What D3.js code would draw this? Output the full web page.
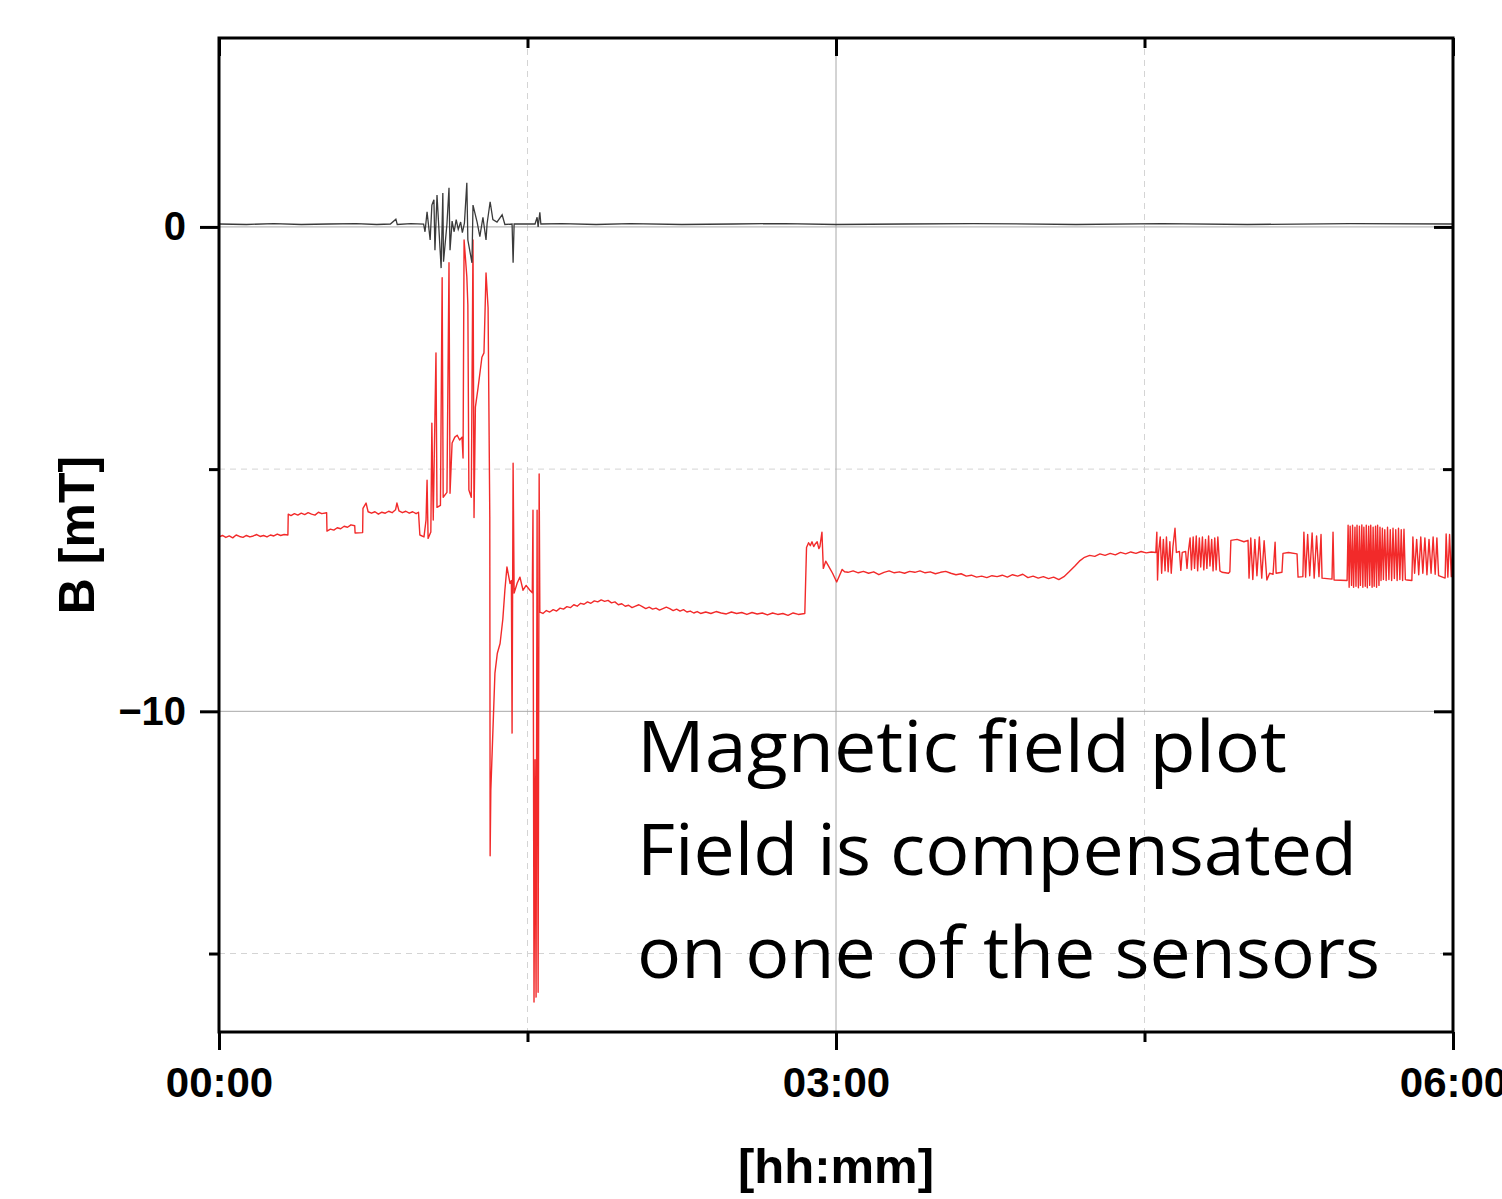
<html>
<head>
<meta charset="utf-8">
<title>Magnetic field plot</title>
<style>
  body { margin: 0; background: #fff; }
  .tick text { font-family: "Liberation Sans", Arial, sans-serif; font-weight: bold; }
</style>
</head>
<body>
<script src="https://d3js.org/d3.v7.min.js"></script>
<script>
// axis ranges / ticks (time in minutes, field in mT)
var xDomain = [0, 360]
var yDomain = [-16.62, 3.9]
var xMajor = [0, 180, 360]
var xMinor = [90, 270]
var yMajor = [0, -10]
var yMinor = [-5, -15]
var noteLines = ["Magnetic field plot", "Field is compensated", "on one of the sensors"]

// black trace (compensated sensor), [min, mT]
var blackSeries = [
  [0,0.06],[8,0.05],[16,0.07],[24,0.05],[32,0.06],[40,0.07],[46,0.05],[50,0.06],[51.6,0.16],
  [52,0.05],[56,0.07],[59.7,0.06],
  [60.1,-0.10],[60.7,0.31],[61.6,-0.27],[62.1,0.45],[62.7,0.56],[63.0,-0.48],[63.6,0.66],
  [64.8,-0.85],[65.3,0.70],[65.5,-0.72],[66.5,0.06],[67.1,0.81],[67.4,-0.48],[68.0,0.12],
  [68.6,-0.10],[69.2,0.15],[69.8,-0.05],[70.5,0.10],[71.0,-0.12],[71.6,0.08],
  [72.3,0.91],[72.6,-0.27],[73.8,-0.74],[74.1,0.45],[75.3,0.10],[76.1,-0.20],[77.0,0.20],
  [77.9,-0.27],[78.2,0.06],[79.1,0.52],[79.9,0.15],[81.1,0.10],[82.6,0.25],[83.4,0.05],
  [85.5,0.06],[85.8,-0.74],[86.1,0.06],[92.2,0.06],[92.8,0.20],[93.1,0.00],[93.6,0.30],
  [93.9,0.06],[100,0.07],[110,0.05],[120,0.07],[135,0.05],[150,0.06],[165,0.07],[180,0.05],
  [200,0.06],[220,0.07],[250,0.05],[275,0.07],[300,0.05],[330,0.07],[360,0.06]
]

// red trace (uncompensated sensor), [min, mT]
var redSeries = [
  [0,-6.40],[1,-6.37],[2,-6.41],[3,-6.38],[4,-6.42],[5,-6.36],[6,-6.39],[7,-6.41],[8,-6.37],
  [9,-6.40],[10,-6.38],[11,-6.35],[12,-6.39],[13,-6.37],[14,-6.40],[15,-6.36],[16,-6.38],
  [17,-6.34],[18,-6.37],[19,-6.35],[20.1,-6.36],
  [20.2,-5.93],[21,-5.96],[22,-5.92],[23,-5.95],[24,-5.91],[25,-5.94],[26,-5.90],[27,-5.93],
  [28,-5.95],[29,-5.89],[30,-5.92],[31.4,-5.90],
  [31.5,-6.28],[32.5,-6.24],[33.5,-6.26],[34.5,-6.21],[35.5,-6.23],[36.5,-6.18],[37.5,-6.20],
  [38.5,-6.15],[39.6,-6.17],[39.7,-6.32],[41.9,-6.31],
  [42.0,-5.81],[42.9,-5.70],[43.5,-5.88],[44.5,-5.91],[45.5,-5.88],[46.5,-5.93],[47.5,-5.89],
  [48.5,-5.91],[49.5,-5.87],[50.5,-5.90],[51.5,-5.84],[51.9,-5.70],[52.5,-5.86],[53.5,-5.90],
  [54.5,-5.87],[55.5,-5.91],[56.5,-5.88],[57.5,-5.92],[58.2,-5.89],
  [58.6,-6.36],[59.8,-6.40],[60.4,-6.05],[60.7,-5.23],[61.0,-6.43],[61.8,-6.30],[62.1,-4.05],
  [62.5,-6.05],[63.3,-2.60],[63.6,-5.79],[64.6,-5.75],[65.1,-1.05],[65.4,-5.58],[66.5,-5.48],
  [67.1,-0.74],[67.4,-5.50],[68.0,-4.46],[68.8,-4.34],[69.5,-4.30],[70.2,-4.40],[70.9,-4.34],
  [71.2,-4.77],[71.5,-0.27],[72.3,-1.03],[72.6,-1.61],[72.9,-5.43],[73.6,-5.58],[74.1,-0.27],
  [74.4,-6.00],[74.8,-3.72],[75.6,-3.31],[76.7,-2.69],[77.3,-2.60],[77.9,-0.95],[78.5,-1.67],
  [79.0,-5.99],[79.1,-12.98],[79.3,-11.63],[80.5,-9.21],[81.2,-8.80],[82.0,-8.60],[82.8,-8.10],
  [83.4,-7.50],[84.0,-7.02],[84.9,-7.36],[85.3,-7.30],[85.5,-10.45],[85.8,-4.88],[86.1,-7.56],
  [87.0,-7.35],[87.8,-7.23],[88.7,-7.50],[89.6,-7.40],[90.7,-7.50],[91.4,-7.55],[91.6,-5.85],
  [91.9,-16.0],[92.2,-11.0],[92.5,-15.9],[92.8,-5.85],[93.1,-15.8],[93.4,-5.10],[93.6,-7.95],
  [94.5,-7.98],[95.5,-7.92],[96.5,-7.95],[97.5,-7.90],[98.5,-7.93],[99.5,-7.87],[100.5,-7.89],
  [101.5,-7.84],[102.5,-7.86],[103.5,-7.80],[104.5,-7.83],[105.5,-7.77],[106.5,-7.79],
  [107.5,-7.74],[108.5,-7.77],[109.5,-7.72],[110.5,-7.74],[111.5,-7.70],[112.5,-7.73],
  [113.5,-7.71],[114.5,-7.76],[115.5,-7.74],[116.5,-7.80],[117.5,-7.78],[118.5,-7.83],
  [119.5,-7.81],[120.5,-7.86],[121.5,-7.83],[122.5,-7.80],[123.5,-7.84],[124.5,-7.88],
  [125.5,-7.85],[126.5,-7.89],[127.5,-7.87],[128.5,-7.91],[129.5,-7.88],[130.5,-7.85],
  [131.5,-7.88],[132.5,-7.92],[133.5,-7.89],[134.5,-7.93],[135.5,-7.90],[136.5,-7.95],
  [137.5,-7.93],[138.5,-7.97],[139.5,-7.94],[140.5,-7.98],[142,-7.95],[143.5,-7.98],
  [145,-7.94],[146.5,-7.97],[148,-7.99],[149.5,-7.95],[151,-7.98],[152.5,-7.96],[154,-8.00],
  [155.5,-7.96],[157,-7.99],[158.5,-7.97],[160,-8.01],[161.5,-7.97],[163,-8.00],[164.5,-7.98],
  [166,-8.02],[167.5,-7.97],[169,-8.00],[170.9,-7.98],
  [171.4,-6.62],[172.0,-6.52],[172.5,-6.58],[173.0,-6.50],[173.5,-6.60],[174.0,-6.54],
  [174.5,-6.50],[175.0,-6.64],[175.3,-6.60],[175.9,-6.30],[176.3,-7.05],[177.0,-6.90],
  [177.5,-6.96],[178.2,-7.05],[179,-7.15],[180.2,-7.33],[181.0,-7.20],[181.8,-7.07],
  [182.5,-7.12],[183.5,-7.13],[185,-7.10],[186.5,-7.14],[188,-7.11],[189.5,-7.15],[191,-7.12],
  [192.5,-7.18],[194,-7.13],[195.5,-7.10],[197,-7.14],[198.5,-7.12],[200,-7.15],[201.5,-7.11],
  [203,-7.13],[204.5,-7.10],[206,-7.14],[207.5,-7.12],[209,-7.16],[210.5,-7.13],[212,-7.11],
  [213.5,-7.15],[215,-7.18],[216.5,-7.16],[218,-7.21],[219.5,-7.19],[221,-7.23],[222.5,-7.21],
  [224,-7.24],[225.5,-7.20],[227,-7.22],[228.5,-7.19],[230,-7.23],[231.5,-7.18],[233,-7.21],
  [234.5,-7.17],[236,-7.24],[237.5,-7.21],[239,-7.25],[240.5,-7.22],[242,-7.26],[243.5,-7.23],
  [245,-7.28],[246.5,-7.22],[248,-7.12],[249.7,-7.00],[251,-6.90],[252.5,-6.82],[254,-6.78],
  [255.5,-6.80],[257,-6.75],[258.5,-6.78],[260,-6.74],[261.5,-6.77],[263,-6.72],[264.5,-6.75],
  [266,-6.71],[267.5,-6.74],[269,-6.70],[270.5,-6.73],[272,-6.71],[273.3,-6.72],
  [273.6,-6.30],[273.8,-7.29],[274.1,-6.72],[274.6,-6.40],[275.0,-7.15],[275.5,-6.45],
  [276.0,-7.10],[276.4,-6.40],[276.9,-7.12],[277.4,-6.50],[277.8,-7.15],[278.3,-6.60],
  [278.9,-6.22],[279.3,-6.72],[280.2,-6.70],[280.6,-7.09],[281.0,-6.72],[282.0,-6.70],
  [282.4,-7.05],[282.8,-6.70],[283.3,-6.42],
  [283.7,-7.08],[284.2,-6.40],[284.6,-7.05],[285.1,-6.38],[285.5,-7.10],[286.0,-6.42],
  [286.4,-7.02],[286.9,-6.40],[287.3,-7.08],[287.8,-6.45],[288.2,-7.05],[288.7,-6.38],
  [289.1,-7.00],[289.6,-6.45],[290.0,-7.10],[290.5,-6.42],[290.9,-7.08],[291.4,-6.40],
  [292.0,-7.10],[292.6,-7.13],[294.5,-7.15],[294.9,-7.12],[295.2,-6.47],[297,-6.45],
  [299,-6.50],[300.2,-6.47],
  [300.5,-7.25],[301.0,-6.42],[301.6,-7.28],[302.2,-6.45],[302.8,-7.20],[303.5,-6.40],
  [304.2,-7.25],[304.9,-6.48],[305.7,-7.29],[306.5,-7.15],[307.5,-7.17],[308.1,-6.51],
  [308.4,-7.15],[310.1,-7.13],[310.4,-6.74],[312,-6.72],[314.5,-6.75],[314.8,-7.23],
  [316.2,-7.22],[316.5,-6.30],[317.0,-7.23],[317.6,-6.35],[318.2,-7.20],[318.9,-6.32],
  [319.5,-7.25],[320.2,-6.38],[320.9,-7.22],[321.5,-6.35],[321.8,-7.25],[324.7,-7.27],
  [325.0,-6.30],[325.3,-7.29],[329.1,-7.30],
  [329.4,-6.16],[329.7,-7.44],[330.0,-6.18],[330.4,-7.40],[330.7,-6.16],[331.0,-7.44],
  [331.4,-6.20],[331.7,-7.42],[332.0,-6.16],[332.4,-7.45],[332.7,-6.18],[333.0,-7.40],
  [333.4,-6.15],[333.7,-7.44],[334.0,-6.20],[334.4,-7.42],[334.7,-6.16],[335.0,-7.45],
  [335.4,-6.18],[335.7,-7.40],[336.0,-6.16],[336.4,-7.44],[336.7,-6.20],[337.0,-7.42],
  [337.4,-6.18],[337.7,-7.44],[338.0,-6.16],[338.4,-7.40],[338.7,-6.20],
  [339.0,-7.30],[339.4,-6.22],[339.7,-7.28],[340.1,-6.25],[340.5,-7.30],[340.9,-6.20],
  [341.3,-7.28],[341.7,-6.25],[342.1,-7.30],[342.5,-6.22],[342.9,-7.26],[343.3,-6.25],
  [343.7,-7.30],[344.1,-6.22],[344.5,-7.28],[344.9,-6.25],[345.3,-7.30],[345.7,-6.24],
  [346.1,-7.28],[346.6,-7.29],[348.0,-7.30],
  [348.3,-6.40],[348.8,-7.15],[349.4,-6.45],[350.0,-7.18],[350.6,-6.40],[351.2,-7.15],
  [351.8,-6.42],[352.4,-7.18],[353.0,-6.45],[353.6,-7.15],[354.2,-6.40],[354.8,-7.17],
  [355.3,-6.42],[355.8,-7.20],[357.7,-7.25],[358.0,-6.34],[358.5,-7.23],[359.0,-6.35],
  [359.5,-7.22],[360,-6.40]
]

var W = 1502, H = 1199
var margin = { left: 219, top: 38, right: 49, bottom: 167 }
var w = W - margin.left - margin.right
var h = H - margin.top - margin.bottom

var svg = d3.select("body").append("svg")
  .attr("width", W)
  .attr("height", H)

var g = svg.append("g").attr("transform", `translate(${margin.left},${margin.top})`)

var x = d3.scaleLinear().domain(xDomain).range([0, w])
var y = d3.scaleLinear().domain(yDomain).range([h, 0])

function hhmm(m) {
  return d3.format("02d")(Math.floor(m / 60)) + ":" + d3.format("02d")(m % 60)
}

// grid: minor dashed, major solid
g.selectAll(".gx-minor").data(xMinor).enter().append("line")
  .attr("x1", d => x(d)).attr("x2", d => x(d)).attr("y1", 0).attr("y2", h)
  .attr("stroke", "#d4d4d4").attr("stroke-width", 1).attr("stroke-dasharray", "6,5")
g.selectAll(".gy-minor").data(yMinor).enter().append("line")
  .attr("x1", 0).attr("x2", w).attr("y1", d => y(d)).attr("y2", d => y(d))
  .attr("stroke", "#d4d4d4").attr("stroke-width", 1).attr("stroke-dasharray", "6,5")
g.selectAll(".gx-major").data([180]).enter().append("line")
  .attr("x1", d => x(d)).attr("x2", d => x(d)).attr("y1", 0).attr("y2", h)
  .attr("stroke", "#a8a8a8").attr("stroke-width", 1)
g.selectAll(".gy-major").data(yMajor).enter().append("line")
  .attr("x1", 0).attr("x2", w).attr("y1", d => y(d)).attr("y2", d => y(d))
  .attr("stroke", "#a8a8a8").attr("stroke-width", 1)

var line = d3.line().x(d => x(d[0])).y(d => y(d[1]))

g.append("path").datum(redSeries)
  .attr("d", line)
  .attr("fill", "none")
  .attr("stroke", "#f22a2a")
  .attr("stroke-width", 1.4)
  .attr("stroke-linejoin", "round")

g.append("path").datum(blackSeries)
  .attr("d", line)
  .attr("fill", "none")
  .attr("stroke", "#3a3a3a")
  .attr("stroke-width", 1.3)

// axes
function styleAxis(sel) {
  sel.select(".domain").remove()
  sel.selectAll(".tick line").attr("stroke", "#000").attr("stroke-width", 3)
}

var xBottom = g.append("g").attr("transform", `translate(0,${h})`)
  .call(d3.axisBottom(x).tickValues(xMajor).tickSize(18).tickPadding(17).tickFormat(hhmm))
styleAxis(xBottom)
xBottom.selectAll("text").attr("font-size", 42).attr("fill", "#000")
g.append("g").attr("transform", `translate(0,${h})`)
  .call(d3.axisBottom(x).tickValues(xMinor).tickSize(10).tickFormat(""))
  .call(styleAxis)

g.append("g")
  .call(d3.axisTop(x).tickValues(xMajor).tickSize(-18).tickFormat(""))
  .call(styleAxis)
g.append("g")
  .call(d3.axisTop(x).tickValues(xMinor).tickSize(-10).tickFormat(""))
  .call(styleAxis)

var yLeft = g.append("g")
  .call(d3.axisLeft(y).tickValues(yMajor).tickSize(19).tickPadding(14).tickFormat(d3.format("d")))
styleAxis(yLeft)
yLeft.selectAll("text").attr("font-size", 40).attr("fill", "#000")
g.append("g")
  .call(d3.axisLeft(y).tickValues(yMinor).tickSize(10).tickFormat(""))
  .call(styleAxis)

g.append("g").attr("transform", `translate(${w},0)`)
  .call(d3.axisRight(y).tickValues(yMajor).tickSize(-19).tickFormat(""))
  .call(styleAxis)
g.append("g").attr("transform", `translate(${w},0)`)
  .call(d3.axisRight(y).tickValues(yMinor).tickSize(-10).tickFormat(""))
  .call(styleAxis)

// frame
g.append("rect")
  .attr("x", 0).attr("y", 0).attr("width", w).attr("height", h)
  .attr("fill", "none").attr("stroke", "#000").attr("stroke-width", 3)

// axis titles
svg.append("text")
  .attr("x", margin.left + w / 2).attr("y", 1183)
  .attr("text-anchor", "middle")
  .attr("font-family", "Liberation Sans, Arial, sans-serif")
  .attr("font-weight", "bold").attr("font-size", 49)
  .text("[hh:mm]")

svg.append("text")
  .attr("transform", "translate(94,535) rotate(-90)")
  .attr("text-anchor", "middle")
  .attr("font-family", "Liberation Sans, Arial, sans-serif")
  .attr("font-weight", "bold").attr("font-size", 50)
  .text("B [mT]")

// annotation
var noteWidths = [650, 720, 743]
svg.selectAll(".note").data(noteLines).enter().append("text")
  .attr("class", "note")
  .attr("x", 637)
  .attr("y", (d, i) => 772 + i * 103)
  .attr("font-family", "Open Sans, Noto Sans, sans-serif")
  .attr("font-size", 72)
  .attr("fill", "#000")
  .attr("textLength", (d, i) => noteWidths[i])
  .attr("lengthAdjust", "spacingAndGlyphs")
  .text(d => d)
</script>
</body>
</html>
